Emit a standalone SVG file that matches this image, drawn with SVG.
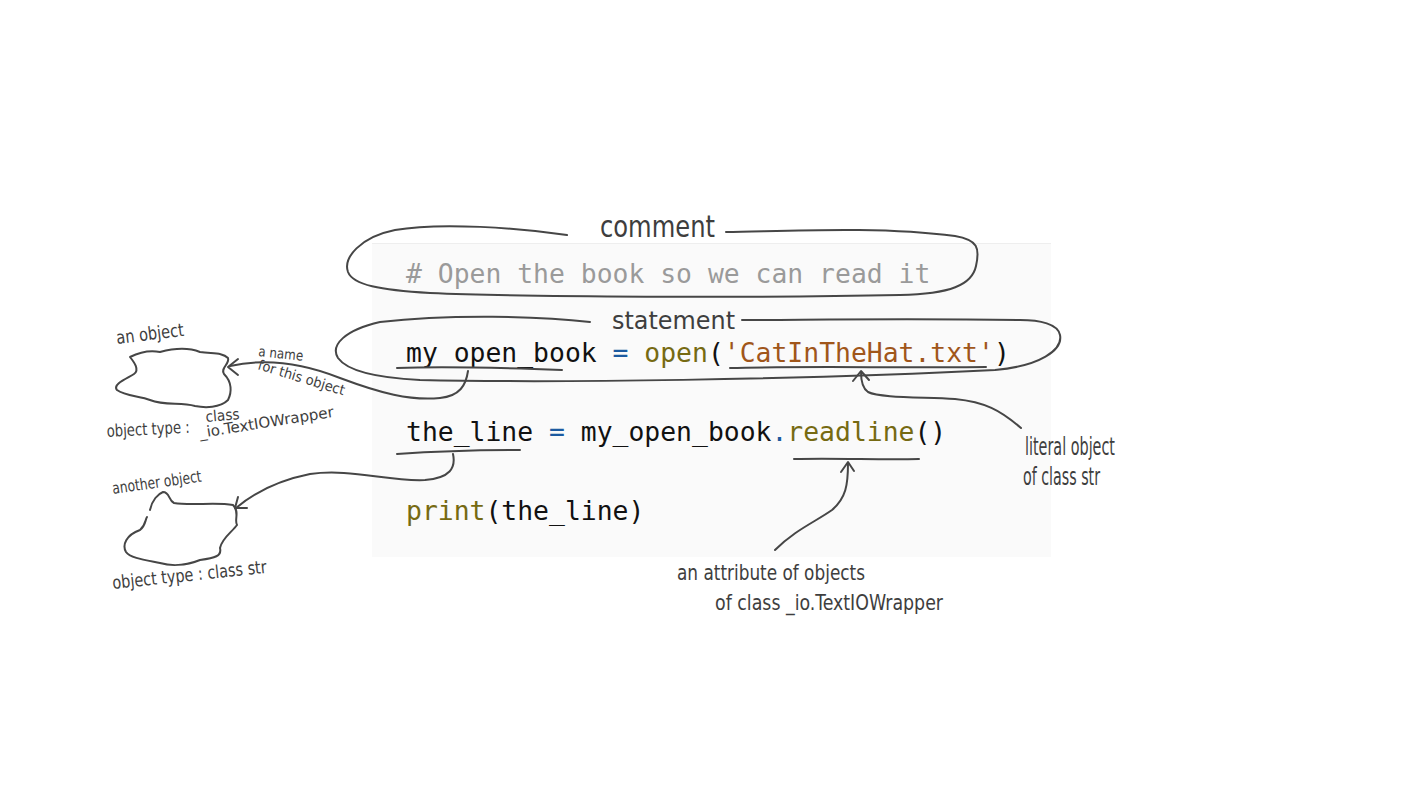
<svg xmlns="http://www.w3.org/2000/svg" width="1422" height="800" viewBox="0 0 1422 800">
  <defs>
    <style>
      .code { font-family: "DejaVu Sans Mono", "Liberation Mono", monospace; font-size: 26.4px; white-space: pre; }
      .cmt { fill: #9a9a9a; }
      .nm { fill: #111111; }
      .op { fill: #1c5aa0; }
      .fn { fill: #766a12; }
      .str { fill: #a0561a; }
      .ink { fill: none; stroke: #464646; stroke-width: 2; stroke-linecap: round; stroke-linejoin: round; }
      .hand { font-family: "Liberation Sans Narrow", "DejaVu Sans Condensed", "Liberation Sans", sans-serif; fill: #3e3e3e; }
    </style>
  </defs>
  <rect width="1422" height="800" fill="#ffffff"/>

  <!-- code listing -->
  <g id="code-block">
    <rect x="372" y="243" width="679" height="314" fill="#fafafa"/>
    <line x1="372" y1="243.5" x2="1051" y2="243.5" stroke="#eeeeee" stroke-width="1"/>
    <text class="code cmt" x="406" y="283"># Open the book so we can read it</text>
    <text class="code" x="406" y="362"><tspan class="nm">my_open_book </tspan><tspan class="op">=</tspan><tspan class="nm"> </tspan><tspan class="fn">open</tspan><tspan class="nm">(</tspan><tspan class="str">'CatInTheHat.txt'</tspan><tspan class="nm">)</tspan></text>
    <text class="code" x="406" y="441"><tspan class="nm">the_line </tspan><tspan class="op">=</tspan><tspan class="nm"> my_open_book</tspan><tspan class="op">.</tspan><tspan class="fn">readline</tspan><tspan class="nm">()</tspan></text>
    <text class="code" x="406" y="520"><tspan class="fn">print</tspan><tspan class="nm">(the_line)</tspan></text>
  </g>

  <!-- comment loop -->
  <g id="comment-note">
    <path class="ink" d="M567,235 C520,228 440,222 395,230 C360,237 343,258 348,272 C353,285 380,290 430,293 C520,297 760,298 900,295 C950,294 972,285 976,266 C980,248 978,240 955,236 C880,226 790,231 726,232"/>
    <text class="hand" x="600" y="237" font-size="30" textLength="115" lengthAdjust="spacingAndGlyphs">comment</text>
  </g>

  <!-- statement loop -->
  <g id="statement-note">
    <path class="ink" d="M590,322 C540,316 450,314 380,322 C345,330 330,345 338,358 C348,372 380,378 420,380 C550,383 800,380 995,370 C1040,366 1063,350 1060,335 C1058,324 1040,320 1020,320 C900,318 800,320 742,320"/>
    <text class="hand" x="612" y="329" font-size="24" textLength="123" lengthAdjust="spacingAndGlyphs">statement</text>
  </g>

  <!-- first object -->
  <g id="object-book">
    <path class="ink" d="M130,357 C140,352 150,350 160,352 C175,348 190,348 200,352 C212,354 222,352 228,358 C230,364 220,368 224,374 C232,382 232,392 228,400 C220,408 205,408 195,406 C180,402 165,406 150,400 C140,396 125,396 117,390 C112,384 128,378 134,374 C140,370 134,362 130,357 Z"/>
    <text class="hand" x="117" y="344" font-size="18" textLength="68" lengthAdjust="spacingAndGlyphs" transform="rotate(-7 117 344)">an object</text>
    <text class="hand" x="107" y="437" font-size="17" textLength="83" lengthAdjust="spacingAndGlyphs" transform="rotate(-3 107 437)">object type :</text>
    <text class="hand" x="206" y="422" font-size="15" textLength="34" lengthAdjust="spacingAndGlyphs" transform="rotate(-5 206 422)">class</text>
    <text class="hand" x="200" y="438" font-size="15" textLength="136" lengthAdjust="spacingAndGlyphs" transform="rotate(-9 200 438)">_io.TextIOWrapper</text>
  </g>

  <!-- second object -->
  <g id="object-line">
    <path class="ink" d="M150,510 C152,500 158,494 163,492 C170,492 168,500 174,503 C190,506 215,502 233,505 C240,512 234,520 237,525 C232,532 222,538 220,548 C222,556 215,558 200,560 C185,566 170,566 160,563 C145,560 130,558 126,552 C122,545 126,535 140,530 C146,525 145,520 147,517"/>
    <text class="hand" x="113" y="494" font-size="16" textLength="90" lengthAdjust="spacingAndGlyphs" transform="rotate(-8 113 494)">another object</text>
    <text class="hand" x="113" y="589" font-size="18" textLength="155" lengthAdjust="spacingAndGlyphs" transform="rotate(-6 113 589)">object type : class str</text>
  </g>

  <!-- annotation labels -->
  <g id="name-label">
    <text class="hand" x="258" y="356" font-size="14" textLength="45" lengthAdjust="spacingAndGlyphs" transform="rotate(6 258 356)">a name</text>
    <text class="hand" x="257" y="369" font-size="14" textLength="90" lengthAdjust="spacingAndGlyphs" transform="rotate(17 257 369)">for this object</text>
  </g>
  <g id="literal-label">
    <text class="hand" x="1025" y="455" font-size="24" textLength="90" lengthAdjust="spacingAndGlyphs">literal object</text>
    <text class="hand" x="1023" y="485" font-size="24" textLength="77" lengthAdjust="spacingAndGlyphs">of class str</text>
  </g>
  <g id="attribute-label">
    <text class="hand" x="677" y="580" font-size="22" textLength="188" lengthAdjust="spacingAndGlyphs">an attribute of objects</text>
    <text class="hand" x="715" y="610" font-size="22" textLength="228" lengthAdjust="spacingAndGlyphs">of class _io.TextIOWrapper</text>
  </g>

  <!-- underlines and arrows -->
  <g id="connectors">
    <path class="ink" d="M397,368 C450,366 510,368 562,370"/>
    <path class="ink" d="M468,371 C466,385 460,396 440,398 C410,401 380,393 340,378 C310,366 270,357 230,366"/>
    <path class="ink" d="M238,359 L228,367 L238,375"/>

    <path class="ink" d="M730,368 C800,366 900,368 986,367"/>
    <path class="ink" d="M1021,428 C1000,410 985,402 955,399 C920,397 880,398 868,392 C862,388 861,380 861,372"/>
    <path class="ink" d="M853,381 L861,371 L869,380"/>

    <path class="ink" d="M397,454 C440,451 480,450 520,450"/>
    <path class="ink" d="M453,454 C456,468 450,478 425,480 C390,482 350,468 310,474 C280,480 255,492 236,508"/>
    <path class="ink" d="M238,497 L235,508 L247,508"/>

    <path class="ink" d="M794,459 C840,458 880,460 919,459"/>
    <path class="ink" d="M775,550 C795,530 815,522 832,510 C846,498 848,485 848,463"/>
    <path class="ink" d="M841,472 L848,462 L854,471"/>
  </g>
</svg>
